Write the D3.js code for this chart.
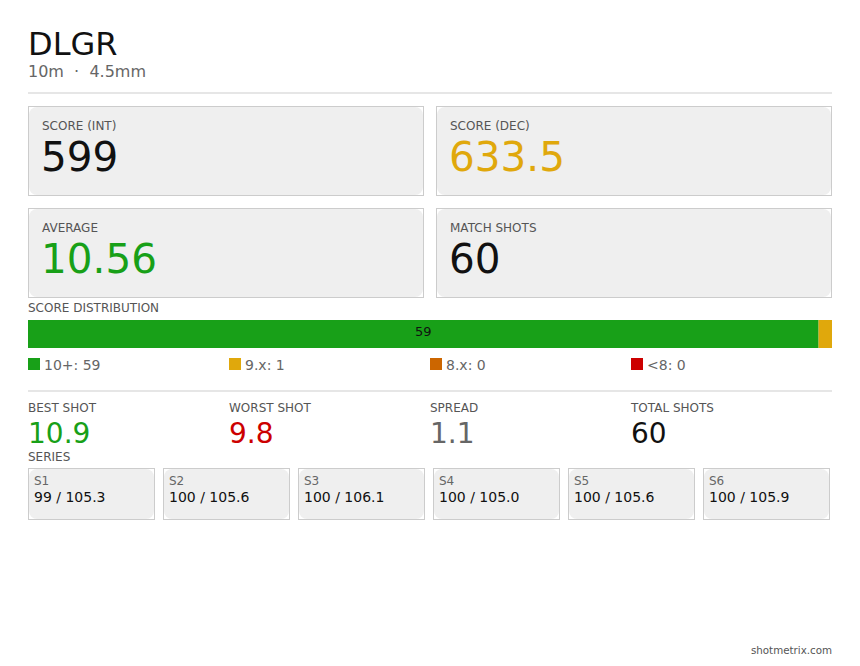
<!DOCTYPE html>
<html>
<head>
<meta charset="utf-8">
<script src="https://cdn.jsdelivr.net/npm/d3@7"></script>
<style>
  body { margin: 0; background: #fff; }
  svg { display: block; }
  svg text { font-family: "DejaVu Sans", "Bitstream Vera Sans", Verdana, sans-serif; }
</style>
</head>
<body>
<script>
// header
var title = "DLGR",
    subtitle = "10m  \u00b7  4.5mm";

// top summary cards
var cardLabels = ["SCORE (INT)", "SCORE (DEC)", "AVERAGE", "MATCH SHOTS"],
    cardValues = ["599", "633.5", "10.56", "60"],
    cardColors = ["#111", "#e0a80c", "#18a018", "#111"];

// score distribution
var distLabels = ["10+", "9.x", "8.x", "<8"],
    distCounts = [59, 1, 0, 0],
    distColors = ["#18a018", "#e0a80c", "#cc6600", "#cc0000"];

// shot stats
var statLabels = ["BEST SHOT", "WORST SHOT", "SPREAD", "TOTAL SHOTS"],
    statValues = ["10.9", "9.8", "1.1", "60"],
    statColors = ["#18a018", "#cc0000", "#666", "#111"];

// series
var seriesNames = ["S1", "S2", "S3", "S4", "S5", "S6"],
    seriesInt = [99, 100, 100, 100, 100, 100],
    seriesDec = [105.3, 105.6, 106.1, 105.0, 105.6, 105.9];

var width = 860,
    height = 666,
    left = 28,
    right = 832;

var svg = d3.select("body")
    .append("svg")
    .attr("width", width)
    .attr("height", height)
    .attr("font-family", "DejaVu Sans, sans-serif");

//title block
svg.append("text")
    .attr("x", left).attr("y", 55)
    .attr("font-size", 32).attr("fill", "#111")
    .text(title);
svg.append("text")
    .attr("x", left).attr("y", 77)
    .attr("font-size", 16).attr("fill", "#666")
    .attr("xml:space", "preserve")
    .text(subtitle);
svg.append("line")
    .attr("x1", left).attr("x2", right)
    .attr("y1", 93).attr("y2", 93)
    .attr("stroke", "#e6e6e6").attr("stroke-width", 2);

//draw a card: rounded grey fill inside a square border
function card(g, w, h){
    g.append("rect")
        .attr("x", 1).attr("y", 1)
        .attr("width", w - 2).attr("height", h - 2)
        .attr("rx", 8)
        .attr("fill", "#efefef");
    g.append("rect")
        .attr("x", 0.5).attr("y", 0.5)
        .attr("width", w - 1).attr("height", h - 1)
        .attr("fill", "none")
        .attr("stroke", "#ccc");
}

//summary cards, 2x2
var colX = d3.scaleBand().domain([0, 1]).range([left, right]).paddingInner(12 / 408);
var cards = svg.selectAll(".card")
    .data(cardLabels)
    .enter()
    .append("g")
    .attr("class", "card")
    .attr("transform", function(d, i){
        return "translate(" + colX(i % 2) + "," + (106 + Math.floor(i / 2) * 102) + ")";
    });
cards.each(function(){ card(d3.select(this), colX.bandwidth(), 90); });
cards.append("text")
    .attr("x", 14).attr("y", 24)
    .attr("font-size", 12).attr("fill", "#555")
    .text(function(d){ return d; });
cards.append("text")
    .attr("x", 13).attr("y", 65)
    .attr("font-size", 40.5)
    .attr("fill", function(d, i){ return cardColors[i]; })
    .text(function(d, i){ return cardValues[i]; });

//score distribution bar
svg.append("text")
    .attr("x", left).attr("y", 312)
    .attr("font-size", 12).attr("fill", "#555")
    .text("SCORE DISTRIBUTION");

var total = d3.sum(distCounts);
var x = d3.scaleLinear().domain([0, total]).range([left, right]);
var starts = distCounts.map(function(d, i){ return d3.sum(distCounts.slice(0, i)); });

svg.selectAll(".seg")
    .data(distCounts)
    .enter()
    .append("rect")
    .attr("class", "seg")
    .attr("x", function(d, i){ return x(starts[i]); })
    .attr("width", function(d, i){ return x(starts[i] + d) - x(starts[i]); })
    .attr("y", 320).attr("height", 28)
    .attr("fill", function(d, i){ return distColors[i]; });

svg.selectAll(".segLabel")
    .data(distCounts.filter(function(d){ return d / total > 0.1; }))
    .enter()
    .append("text")
    .attr("class", "segLabel")
    .attr("x", function(d){ var i = distCounts.indexOf(d); return (x(starts[i]) + x(starts[i] + d)) / 2; })
    .attr("y", 336)
    .attr("text-anchor", "middle")
    .attr("font-size", 13).attr("fill", "#111")
    .text(function(d){ return d; });

//legend
var quarter = d3.scaleBand().domain(d3.range(4)).range([left, right]);
var legend = svg.selectAll(".legend")
    .data(distLabels)
    .enter()
    .append("g")
    .attr("class", "legend")
    .attr("transform", function(d, i){ return "translate(" + quarter(i) + ",358)"; });
legend.append("rect")
    .attr("width", 12).attr("height", 12)
    .attr("fill", function(d, i){ return distColors[i]; });
legend.append("text")
    .attr("x", 16).attr("y", 11.5)
    .attr("font-size", 14).attr("fill", "#666")
    .text(function(d, i){ return d + ": " + distCounts[i]; });

svg.append("line")
    .attr("x1", left).attr("x2", right)
    .attr("y1", 391).attr("y2", 391)
    .attr("stroke", "#e6e6e6").attr("stroke-width", 2);

//shot stats
var stats = svg.selectAll(".stat")
    .data(statLabels)
    .enter()
    .append("g")
    .attr("class", "stat")
    .attr("transform", function(d, i){ return "translate(" + quarter(i) + ",0)"; });
stats.append("text")
    .attr("y", 412)
    .attr("font-size", 12).attr("fill", "#555")
    .text(function(d){ return d; });
stats.append("text")
    .attr("y", 443)
    .attr("font-size", 28)
    .attr("fill", function(d, i){ return statColors[i]; })
    .text(function(d, i){ return statValues[i]; });

//series cards
svg.append("text")
    .attr("x", left).attr("y", 461)
    .attr("font-size", 12).attr("fill", "#555")
    .text("SERIES");

var sx = d3.scaleBand().domain(seriesNames).range([left, 830]).paddingInner(8 / 135);
var series = svg.selectAll(".series")
    .data(seriesNames)
    .enter()
    .append("g")
    .attr("class", "series")
    .attr("transform", function(d){ return "translate(" + Math.round(sx(d)) + ",468)"; });
series.each(function(){ card(d3.select(this), Math.round(sx.bandwidth()), 52); });
series.append("text")
    .attr("x", 6).attr("y", 17)
    .attr("font-size", 12).attr("fill", "#666")
    .text(function(d){ return d; });
series.append("text")
    .attr("x", 6).attr("y", 34)
    .attr("font-size", 14).attr("fill", "#111")
    .text(function(d, i){ return seriesInt[i] + " / " + seriesDec[i].toFixed(1); });

//footer
svg.append("text")
    .attr("x", right).attr("y", 654)
    .attr("text-anchor", "end")
    .attr("font-size", 10.3).attr("fill", "#555")
    .text("shotmetrix.com");
</script>
</body>
</html>
